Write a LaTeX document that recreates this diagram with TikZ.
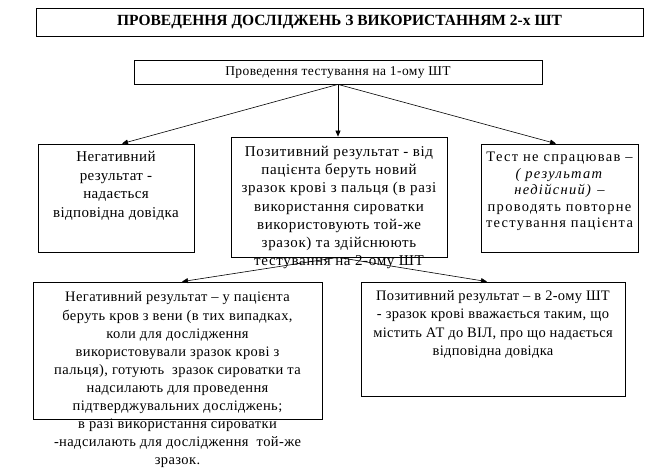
\documentclass[tikz,border=0pt]{standalone}
\usepackage{fontspec}
\setmainfont{Liberation Serif}
\usetikzlibrary{arrows.meta}
\newcommand{\lsp}[1]{\addfontfeature{LetterSpace=#1}}
\begin{document}
\begin{tikzpicture}[x=1pt,y=-1pt,
  box/.style={draw,line width=0.8pt,inner sep=0pt,fill=none},
  txt/.style={inner sep=0pt,align=center},
  arr/.style={line width=0.6pt,-{Triangle[length=6pt,width=5pt]}}]
\useasboundingbox (0,0) rectangle (649,471);
% boxes
\node[box,minimum width=607pt,minimum height=28pt] (title) at (339.5,22) {};
\node[box,minimum width=408pt,minimum height=24pt] (test1) at (338,72) {};
\node[box,minimum width=156pt,minimum height=108pt] (neg1) at (116,198) {};
\node[box,minimum width=216pt,minimum height=120pt] (pos1) at (339,197) {};
\node[box,minimum width=157pt,minimum height=108pt] (fail) at (559.5,198) {};
\node[box,minimum width=289pt,minimum height=137pt] (neg2) at (177.5,350.5) {};
\node[box,minimum width=264pt,minimum height=114pt] (pos2) at (493,339) {};
% texts
\node[txt,font=\bfseries\fontsize{15.5}{18}\selectfont] (titlet) at (339.5,22.5) {ПРОВЕДЕННЯ ДОСЛІДЖЕНЬ З ВИКОРИСТАННЯМ 2-х ШТ};
\node[txt,font=\fontsize{13.5}{16}\selectfont\lsp{3}] (test1t) at (338,72.5) {Проведення тестування на 1-ому ШТ};
\node[txt,font=\fontsize{15}{18.5}\selectfont\lsp{2.6}] (neg1t) at (116,186) {Негативний\\результат -\\надається\\відповідна довідка};
\node[txt,font=\fontsize{15}{18.1}\selectfont\lsp{4.5}] (pos1t) at (339,207.5) {Позитивний результат - від\\пацієнта беруть новий\\зразок крові з пальця (в разі\\використання сироватки\\використовують той-же\\зразок) та здійснюють\\тестування на 2-ому ШТ};
\node[txt,font=\fontsize{14.5}{16.6}\selectfont\lsp{9}] (failt) at (559.5,191.5) {Тест не спрацював –\\\textit{( результат}\\\textit{недійсний)} –\\проводять повторне\\тестування пацієнта};
\node[txt,font=\fontsize{14.5}{18.1}\selectfont\lsp{2.8}] (neg2t) at (177.5,380) {Негативний результат – у пацієнта\\беруть кров з вени (в тих випадках,\\коли для дослідження\\використовували зразок крові з\\пальця), готують\ \ зразок сироватки та\\надсилають для проведення\\підтверджувальних досліджень;\\в разі використання сироватки\\-надсилають для дослідження\ \ той-же\\зразок.};
\node[txt,font=\fontsize{14.5}{18.5}\selectfont\lsp{2.3}] (pos2t) at (493,324.5) {Позитивний результат – в 2-ому ШТ\\- зразок крові вважається таким, що\\містить АТ до ВІЛ, про що надається\\відповідна довідка};
% connectors
\draw[arr] (test1.south) -- ([xshift=6pt]neg1.north);
\draw[arr] (test1.south) -- (pos1.north -| test1.south);
\draw[arr] (test1.south) -- ([xshift=-3.5pt]fail.north);
\draw[arr] ([xshift=-1pt]pos1.south) -- ([xshift=4.5pt]neg2.north);
\draw[arr] ([xshift=-1pt]pos1.south) -- ([xshift=-6pt]pos2.north);
\end{tikzpicture}
\end{document}
